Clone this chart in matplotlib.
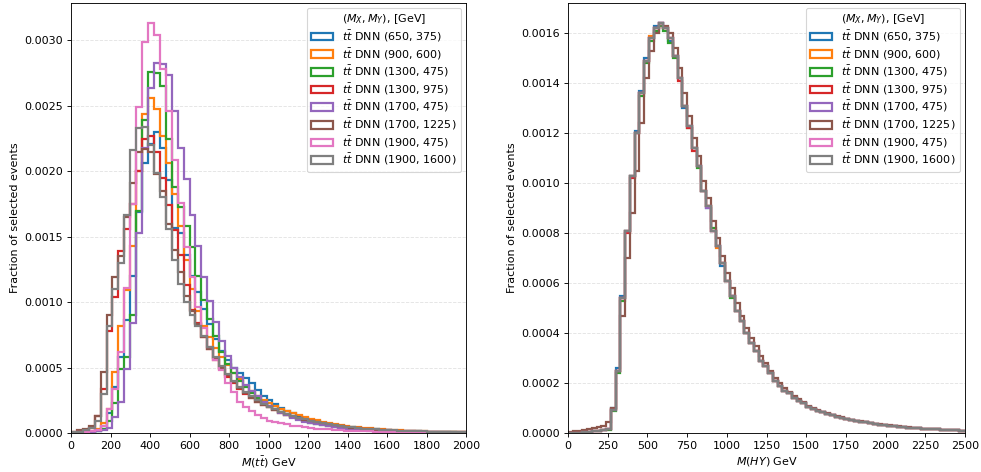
import matplotlib
matplotlib.use("Agg")
import matplotlib.pyplot as plt
import numpy as np

# ── Signal points and labels ─────────────────────────────────────────────────
MASS_POINTS = ["(650, 375)", "(900, 600)", "(1300, 475)", "(1300, 975)",
               "(1700, 475)", "(1700, 1225)", "(1900, 475)", "(1900, 1600)"]
COLORS = ["tab:blue", "tab:orange", "tab:green", "tab:red",
          "tab:purple", "tab:brown", "tab:pink", "tab:gray"]

# bin edges [GeV], 30 GeV bins
TT_EDGES = np.arange(0, 2011, 30)
HY_EDGES = np.arange(0, 2521, 30)

# ── M(tt) fractions per bin, units of 1e-4 ───────────────────────────────────
tt_650_375 = [0.0, 0.02, 0.04, 0.08, 0.15, 0.5, 1.5, 3.5, 5.8, 8.6, 12.0, 16.9, 20.6, 22.1, 23.0, 21.8, 19.3, 15.7, 15.3, 13.6,
              12.0, 10.8, 9.5, 8.3, 7.2, 6.3, 5.6, 5.0, 4.6, 4.2, 3.8, 3.3, 2.8, 2.5, 2.2, 1.9, 1.7, 1.5, 1.3, 1.15,
              1.0, 0.9, 0.8, 0.7, 0.62, 0.55, 0.49, 0.43, 0.38, 0.34, 0.3, 0.27, 0.24, 0.21, 0.19, 0.17, 0.15, 0.13, 0.12, 0.1,
              0.09, 0.08, 0.07, 0.07, 0.06, 0.05, 0.05]
tt_900_600 = [0.0, 0.03, 0.05, 0.1, 0.3, 0.8, 1.8, 4.7, 8.2, 10.9, 14.3, 20.0, 24.4, 25.6, 24.8, 22.7, 20.6, 18.3, 15.8, 13.2,
              11.0, 9.3, 8.2, 7.3, 6.5, 5.8, 5.2, 4.6, 4.1, 3.6, 3.2, 2.85, 2.55, 2.3, 2.05, 1.85, 1.65, 1.5, 1.35, 1.2,
              1.08, 0.97, 0.87, 0.78, 0.7, 0.62, 0.55, 0.49, 0.44, 0.39, 0.35, 0.31, 0.28, 0.25, 0.22, 0.2, 0.18, 0.16, 0.14, 0.12,
              0.11, 0.1, 0.09, 0.08, 0.07, 0.06, 0.06]
tt_1300_475 = [0.0, 0.02, 0.05, 0.1, 0.15, 0.3, 0.9, 2.3, 4.9, 5.8, 9.0, 17.0, 23.9, 27.6, 27.5, 26.5, 22.5, 18.8, 17.3, 15.8,
               14.2, 12.0, 10.2, 8.7, 7.4, 6.2, 5.3, 4.6, 4.0, 3.5, 3.05, 2.7, 2.35, 2.05, 1.8, 1.58, 1.38, 1.2, 1.05, 0.92,
               0.8, 0.7, 0.61, 0.53, 0.46, 0.4, 0.35, 0.31, 0.27, 0.24, 0.21, 0.18, 0.16, 0.14, 0.12, 0.11, 0.1, 0.09, 0.08, 0.07,
               0.06, 0.05, 0.05, 0.04, 0.04, 0.03, 0.03]
tt_1300_975 = [0.05, 0.1, 0.2, 0.4, 1.3, 3.4, 7.8, 10.4, 13.9, 15.6, 17.5, 20.0, 22.5, 22.7, 21.5, 19.5, 17.4, 15.5, 13.6, 11.3,
               9.4, 8.4, 7.3, 6.4, 5.6, 4.9, 4.3, 3.8, 3.4, 3.0, 2.7, 2.4, 2.15, 1.95, 1.75, 1.55, 1.4, 1.25, 1.12, 1.0,
               0.9, 0.8, 0.72, 0.64, 0.57, 0.5, 0.45, 0.4, 0.36, 0.32, 0.28, 0.25, 0.22, 0.2, 0.18, 0.16, 0.14, 0.12, 0.11, 0.1,
               0.09, 0.08, 0.07, 0.06, 0.05, 0.05, 0.04]
tt_1700_475 = [0.0, 0.02, 0.05, 0.1, 0.15, 0.2, 0.4, 1.2, 2.4, 4.9, 8.4, 15.3, 21.8, 26.4, 28.3, 28.2, 27.4, 24.6, 21.8, 19.4,
               16.7, 14.3, 11.9, 10.1, 8.5, 7.0, 5.9, 5.0, 4.3, 3.7, 3.2, 2.8, 2.4, 2.1, 1.8, 1.55, 1.35, 1.15, 1.0, 0.87,
               0.76, 0.66, 0.58, 0.5, 0.44, 0.38, 0.33, 0.29, 0.25, 0.22, 0.19, 0.17, 0.15, 0.13, 0.11, 0.1, 0.09, 0.08, 0.07, 0.06,
               0.05, 0.05, 0.04, 0.04, 0.03, 0.03, 0.03]
tt_1700_1225 = [0.1, 0.2, 0.3, 0.5, 1.3, 4.7, 9.0, 11.9, 13.5, 16.5, 19.1, 21.5, 21.7, 21.5, 19.8, 18.5, 16.0, 14.0, 12.3, 10.5,
                9.3, 8.3, 7.3, 6.4, 5.7, 5.0, 4.4, 3.9, 3.45, 3.05, 2.7, 2.4, 2.15, 1.95, 1.75, 1.58, 1.42, 1.28, 1.15, 1.03,
                0.93, 0.83, 0.74, 0.66, 0.59, 0.52, 0.46, 0.41, 0.37, 0.33, 0.29, 0.26, 0.23, 0.21, 0.19, 0.17, 0.15, 0.13, 0.12, 0.11,
                0.1, 0.09, 0.08, 0.07, 0.06, 0.05, 0.05]
tt_1900_475 = [0.0, 0.05, 0.1, 0.15, 0.25, 0.5, 1.8, 3.4, 6.2, 11.1, 17.5, 24.9, 29.9, 31.3, 30.4, 27.8, 24.6, 20.9, 17.6, 14.2,
               11.9, 9.6, 8.0, 6.6, 5.6, 4.8, 3.8, 3.1, 2.4, 2.0, 1.65, 1.4, 1.15, 0.95, 0.85, 0.75, 0.65, 0.57, 0.5, 0.44,
               0.39, 0.34, 0.3, 0.27, 0.24, 0.21, 0.19, 0.17, 0.15, 0.13, 0.12, 0.11, 0.1, 0.09, 0.08, 0.07, 0.06, 0.06, 0.05, 0.05,
               0.04, 0.04, 0.03, 0.03, 0.03, 0.02, 0.02]
tt_1900_1600 = [0.05, 0.1, 0.2, 0.4, 0.9, 3.0, 8.2, 11.0, 13.0, 16.7, 21.6, 23.3, 23.4, 22.0, 19.9, 18.0, 15.6, 13.2, 11.4, 10.0,
                9.0, 8.2, 7.4, 6.6, 5.8, 5.1, 4.5, 4.0, 3.5, 3.1, 2.8, 2.5, 2.25, 2.0, 1.8, 1.6, 1.45, 1.3, 1.17, 1.05,
                0.95, 0.85, 0.76, 0.68, 0.61, 0.54, 0.48, 0.43, 0.38, 0.34, 0.3, 0.27, 0.24, 0.22, 0.2, 0.18, 0.16, 0.14, 0.13, 0.12,
                0.11, 0.1, 0.09, 0.08, 0.07, 0.06, 0.06]

# ── M(HY) fractions per bin, units of 1e-4 ───────────────────────────────────
hy_650_375 = [0.0, 0.01, 0.02, 0.03, 0.05, 0.07, 0.09, 0.12, 0.18, 1.0, 2.6, 5.5, 8.1, 10.3, 12.1, 13.7, 15.0, 15.8, 16.3, 16.4,
              16.2, 15.7, 15.1, 14.2, 13.0, 12.3, 11.4, 10.7, 9.7, 9.0, 8.1, 7.5, 6.7, 6.1, 5.5, 4.9, 4.5, 4.0, 3.6, 3.3,
              2.9, 2.7, 2.4, 2.1, 1.9, 1.7, 1.6, 1.4, 1.3, 1.2, 1.05, 0.98, 0.9, 0.83, 0.77, 0.72, 0.66, 0.61, 0.57, 0.53,
              0.49, 0.46, 0.43, 0.4, 0.37, 0.34, 0.32, 0.3, 0.28, 0.26, 0.24, 0.22, 0.21, 0.19, 0.18, 0.17, 0.16, 0.15, 0.14, 0.13,
              0.12, 0.11, 0.1, 0.09]
hy_900_600 = [0.0, 0.01, 0.02, 0.03, 0.05, 0.07, 0.09, 0.11, 0.16, 0.95, 2.5, 5.4, 8.1, 10.3, 12.0, 13.6, 14.9, 15.9, 16.2, 16.3,
              16.2, 15.8, 15.1, 14.2, 13.1, 12.3, 11.4, 10.7, 9.7, 9.1, 8.1, 7.4, 6.8, 6.1, 5.5, 4.9, 4.5, 4.0, 3.6, 3.3,
              2.9, 2.7, 2.4, 2.1, 1.9, 1.7, 1.6, 1.4, 1.3, 1.2, 1.05, 0.98, 0.9, 0.83, 0.77, 0.72, 0.66, 0.61, 0.57, 0.53,
              0.49, 0.46, 0.43, 0.4, 0.37, 0.34, 0.32, 0.3, 0.28, 0.26, 0.24, 0.22, 0.21, 0.19, 0.18, 0.17, 0.16, 0.15, 0.14, 0.13,
              0.12, 0.11, 0.1, 0.09]
hy_1300_475 = [0.0, 0.01, 0.02, 0.03, 0.05, 0.07, 0.09, 0.11, 0.14, 0.9, 2.4, 5.3, 8.1, 10.3, 12.0, 13.5, 14.8, 15.7, 16.1, 16.3,
               16.1, 15.6, 15.0, 14.2, 13.1, 12.2, 11.4, 10.6, 9.7, 9.1, 8.2, 7.5, 6.8, 6.1, 5.4, 4.9, 4.5, 4.0, 3.6, 3.3,
               2.9, 2.7, 2.4, 2.1, 1.9, 1.7, 1.6, 1.4, 1.3, 1.2, 1.05, 0.98, 0.9, 0.83, 0.77, 0.72, 0.66, 0.61, 0.57, 0.53,
               0.49, 0.46, 0.43, 0.4, 0.37, 0.34, 0.32, 0.3, 0.28, 0.26, 0.24, 0.22, 0.21, 0.19, 0.18, 0.17, 0.16, 0.15, 0.14, 0.13,
               0.12, 0.11, 0.1, 0.09]
hy_1300_975 = [0.0, 0.01, 0.02, 0.03, 0.05, 0.07, 0.09, 0.12, 0.17, 0.95, 2.5, 5.4, 8.0, 10.2, 12.0, 13.6, 14.9, 15.8, 16.2, 16.4,
               16.2, 15.8, 15.1, 14.1, 13.1, 12.2, 11.3, 10.7, 9.7, 9.1, 8.1, 7.5, 6.8, 6.1, 5.5, 4.9, 4.5, 4.0, 3.6, 3.3,
               2.9, 2.7, 2.4, 2.1, 1.9, 1.7, 1.6, 1.4, 1.3, 1.2, 1.05, 0.98, 0.9, 0.83, 0.77, 0.72, 0.66, 0.61, 0.57, 0.53,
               0.49, 0.46, 0.43, 0.4, 0.37, 0.34, 0.32, 0.3, 0.28, 0.26, 0.24, 0.22, 0.21, 0.19, 0.18, 0.17, 0.16, 0.15, 0.14, 0.13,
               0.12, 0.11, 0.1, 0.09]
hy_1700_475 = [0.0, 0.01, 0.02, 0.03, 0.05, 0.07, 0.09, 0.11, 0.15, 0.93, 2.5, 5.4, 8.1, 10.3, 12.0, 13.6, 14.9, 15.8, 16.2, 16.4,
               16.2, 15.8, 15.1, 14.2, 13.1, 12.3, 11.4, 10.7, 9.7, 9.0, 8.1, 7.5, 6.8, 6.1, 5.5, 4.9, 4.5, 4.0, 3.6, 3.3,
               2.9, 2.7, 2.4, 2.1, 1.9, 1.7, 1.6, 1.4, 1.3, 1.2, 1.05, 0.98, 0.9, 0.83, 0.77, 0.72, 0.66, 0.61, 0.57, 0.53,
               0.49, 0.46, 0.43, 0.4, 0.37, 0.34, 0.32, 0.3, 0.28, 0.26, 0.24, 0.22, 0.21, 0.19, 0.18, 0.17, 0.16, 0.15, 0.14, 0.13,
               0.12, 0.11, 0.1, 0.09]
hy_1700_1225 = [0.05, 0.08, 0.1, 0.13, 0.16, 0.19, 0.23, 0.27, 0.46, 1.0, 2.5, 4.7, 7.0, 8.8, 10.5, 12.4, 14.2, 15.3, 16.0, 16.4,
                16.3, 16.0, 15.4, 14.6, 13.6, 12.7, 11.8, 11.1, 10.1, 9.4, 8.5, 7.8, 7.1, 6.4, 5.8, 5.2, 4.7, 4.2, 3.8, 3.5,
                3.1, 2.8, 2.5, 2.2, 2.0, 1.8, 1.65, 1.5, 1.35, 1.25, 1.1, 1.0, 0.93, 0.86, 0.8, 0.74, 0.68, 0.63, 0.58, 0.54,
                0.5, 0.47, 0.44, 0.41, 0.38, 0.35, 0.33, 0.31, 0.29, 0.27, 0.25, 0.23, 0.21, 0.2, 0.18, 0.17, 0.16, 0.15, 0.14, 0.13,
                0.12, 0.11, 0.1, 0.09]
hy_1900_475 = [0.0, 0.01, 0.02, 0.03, 0.05, 0.07, 0.09, 0.11, 0.15, 0.92, 2.5, 5.4, 8.1, 10.3, 12.0, 13.6, 14.9, 15.8, 16.2, 16.4,
               16.2, 15.8, 15.1, 14.2, 13.1, 12.3, 11.4, 10.7, 9.7, 9.1, 8.1, 7.5, 6.8, 6.1, 5.5, 4.9, 4.5, 4.0, 3.6, 3.3,
               2.9, 2.7, 2.4, 2.1, 1.9, 1.7, 1.6, 1.4, 1.3, 1.2, 1.05, 0.98, 0.9, 0.83, 0.77, 0.72, 0.66, 0.61, 0.57, 0.53,
               0.49, 0.46, 0.43, 0.4, 0.37, 0.34, 0.32, 0.3, 0.28, 0.26, 0.24, 0.22, 0.21, 0.19, 0.18, 0.17, 0.16, 0.15, 0.14, 0.13,
               0.12, 0.11, 0.1, 0.09]
hy_1900_1600 = [0.0, 0.01, 0.02, 0.03, 0.05, 0.07, 0.09, 0.11, 0.15, 0.93, 2.5, 5.4, 8.1, 10.3, 12.0, 13.6, 14.9, 15.8, 16.2, 16.4,
                16.2, 15.8, 15.1, 14.2, 13.1, 12.3, 11.4, 10.7, 9.7, 9.1, 8.1, 7.5, 6.8, 6.1, 5.5, 4.9, 4.5, 4.0, 3.6, 3.3,
                2.9, 2.7, 2.4, 2.1, 1.9, 1.7, 1.6, 1.4, 1.3, 1.2, 1.05, 0.98, 0.9, 0.83, 0.77, 0.72, 0.66, 0.61, 0.57, 0.53,
                0.49, 0.46, 0.43, 0.4, 0.37, 0.34, 0.32, 0.3, 0.28, 0.26, 0.24, 0.22, 0.21, 0.19, 0.18, 0.17, 0.16, 0.15, 0.14, 0.13,
                0.12, 0.11, 0.1, 0.09]

TT_SERIES = [tt_650_375, tt_900_600, tt_1300_475, tt_1300_975,
             tt_1700_475, tt_1700_1225, tt_1900_475, tt_1900_1600]
HY_SERIES = [hy_650_375, hy_900_600, hy_1300_475, hy_1300_975,
             hy_1700_475, hy_1700_1225, hy_1900_475, hy_1900_1600]


def draw_panel(ax, edges, series, xmax, xlabel):
    centers = 0.5 * (edges[:-1] + edges[1:])
    for vals, mp, col in zip(series, MASS_POINTS, COLORS):
        ax.hist(centers, bins=edges, weights=np.array(vals) * 1e-4,
                histtype="step", linewidth=2, color=col,
                label=r"$t\bar{t}$ DNN " + mp)
    ax.set_xlim(0, xmax)
    ax.set_xlabel(xlabel)
    ax.set_ylabel("Fraction of selected events")
    ax.grid(axis="y", linestyle="--", alpha=0.35)
    ax.legend(title=r"$(M_X, M_Y)$, [GeV]", loc="upper right",
              labelspacing=0.22, borderaxespad=0.45)


fig = plt.figure(figsize=(981 / 80, 472 / 80), dpi=80)
ax1 = fig.add_axes([71 / 981, 39 / 472, 395 / 981, 430 / 472])
ax2 = fig.add_axes([568 / 981, 39 / 472, 397 / 981, 430 / 472])

draw_panel(ax1, TT_EDGES, TT_SERIES, 2000, r"$M(t\bar{t})$ GeV")
ax1.set_xticks(np.arange(0, 2001, 200))
draw_panel(ax2, HY_EDGES, HY_SERIES, 2500, r"$M(HY)$ GeV")
ax2.set_xticks(np.arange(0, 2501, 250))

fig.savefig("out.png", dpi=80)
